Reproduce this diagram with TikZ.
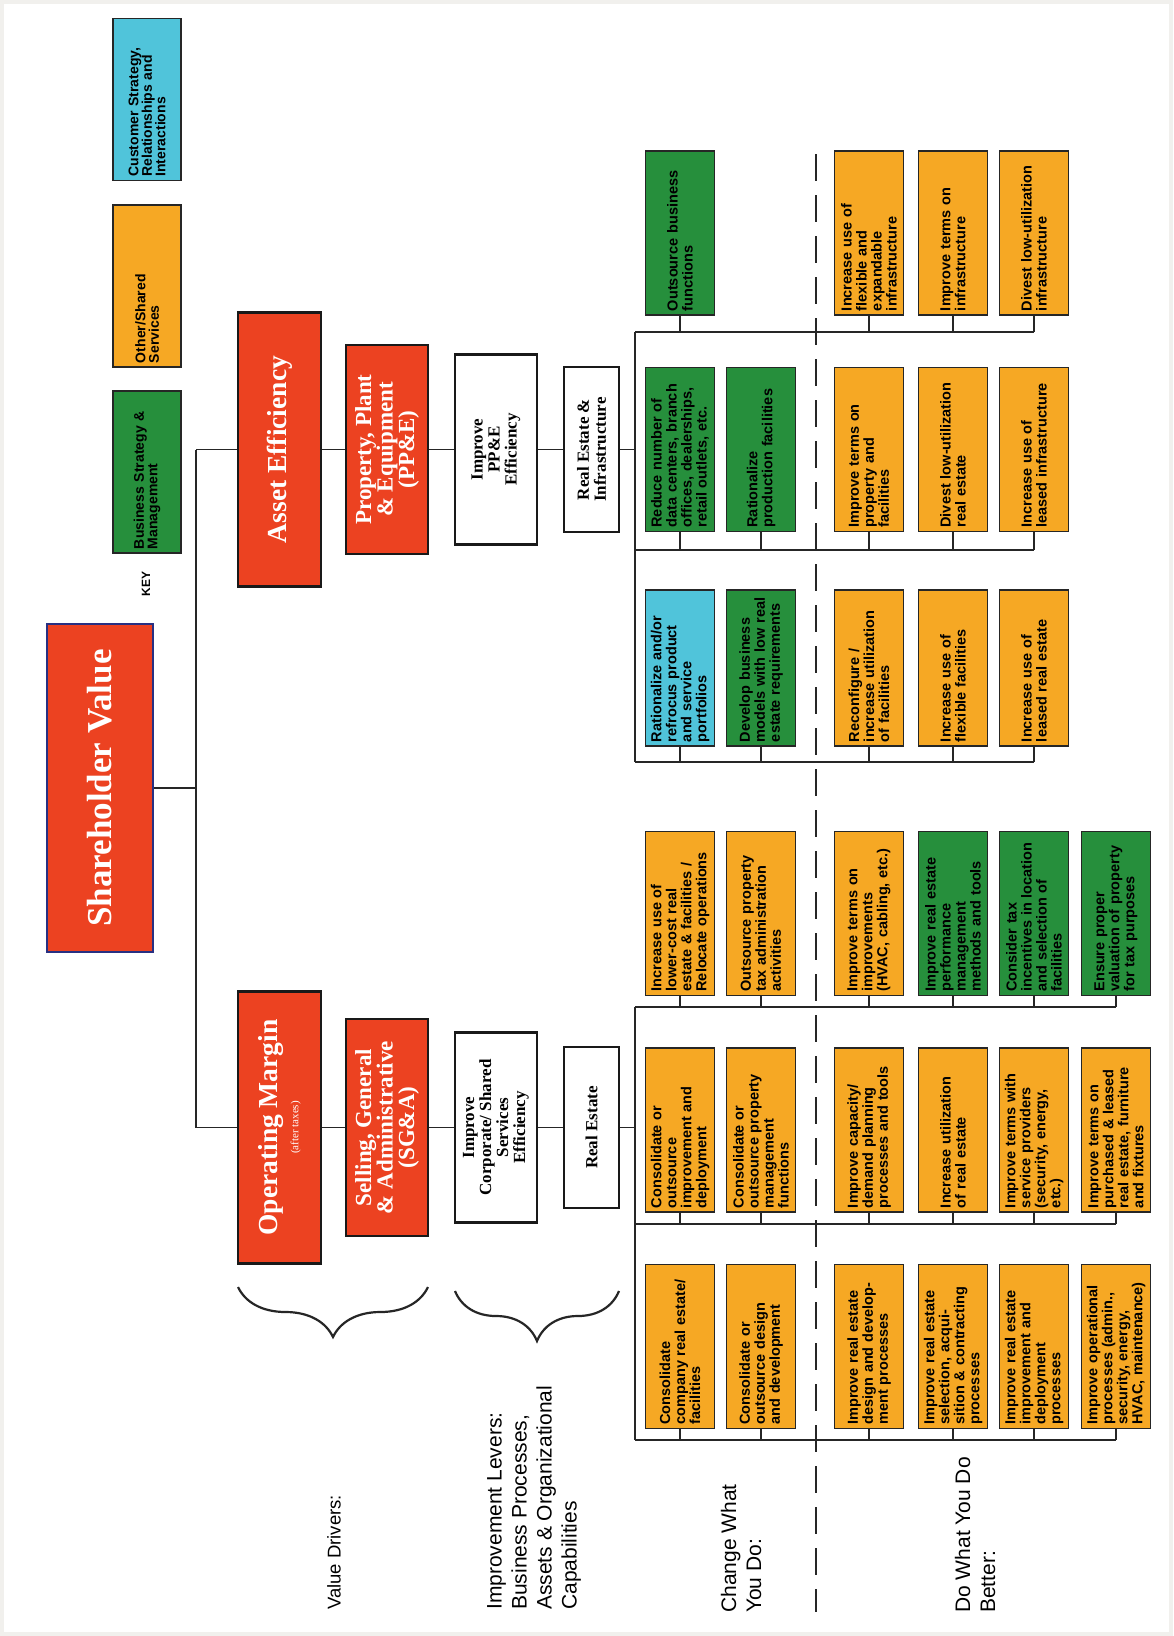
\documentclass[tikz,border=0pt]{standalone}
\usepackage{fontspec}
\setmainfont{Liberation Serif}
\setsansfont{Liberation Sans}
\usetikzlibrary{decorations.pathreplacing}
\definecolor{drvred}{RGB}{236,66,33}
\definecolor{optorange}{RGB}{246,168,36}
\definecolor{optgreen}{RGB}{38,143,60}
\definecolor{optcyan}{RGB}{80,196,218}
\definecolor{svblue}{RGB}{40,48,130}
\definecolor{framegray}{RGB}{241,240,237}
\begin{document}
\begin{tikzpicture}[x=1pt,y=-1pt,
 wire/.style={black!85,line width=1.6pt},
 opt/.style={rotate=90,draw=black!85,line width=1.6pt,minimum height=69pt,text width=156pt,inner xsep=4pt,inner ysep=0pt,align=left,font=\sffamily\bfseries\fontsize{14.5}{15}\selectfont},
 keybox/.style={opt,minimum height=68pt,text width=154pt,font=\sffamily\bfseries\fontsize{14}{13.5}\selectfont},
 drv/.style={rotate=90,draw=black!90,line width=2.5pt,fill=drvred,text=white,inner sep=0pt,align=center},
 lev/.style={rotate=90,draw=black!90,line width=2.5pt,fill=white,inner sep=0pt,align=center,font=\bfseries\fontsize{17}{17}\selectfont},
 lbl/.style={rotate=90,anchor=west,inner sep=0pt,align=left,font=\sffamily\fontsize{21}{25}\selectfont}]
 \useasboundingbox (0,0) rectangle (1173,1636);
 \fill[framegray] (0,0) rectangle (1173,1636);
 \fill[white] (4,4) rectangle (1169,1632);
 % key
 \node[keybox,fill=optgreen] (kgreen) at (147,472) {Business Strategy \&\\Management};
 \node[keybox,fill=optorange] (korange) at (147,286) {Other/Shared\\Services};
 \node[keybox,fill=optcyan] (kcyan) at (147,99.5) {Customer Strategy,\\Relationships and\\Interactions};
 \node[rotate=90,font=\sffamily\bfseries\fontsize{12}{12}\selectfont] (keylbl) at (146,584) {KEY};
 % value drivers
 \node[drv,draw=svblue,line width=2pt,minimum width=328pt,minimum height=106pt,font=\bfseries\fontsize{35}{35}\selectfont] (sv) at (100,788) {Shareholder Value};
 \node[drv,minimum width=274pt,minimum height=83pt,font=\bfseries\fontsize{27.5}{30}\selectfont] (asset) at (279.5,449.5) {Asset Efficiency};
 \node[drv,minimum width=272pt,minimum height=83pt,font=\bfseries\fontsize{27.5}{30}\selectfont] (opm) at (279.5,1127.5) {Operating Margin\\[-9pt]{\mdseries\fontsize{11}{11}\selectfont(after taxes)}};
 \node[drv,minimum width=209pt,minimum height=82pt,font=\bfseries\fontsize{23}{21.5}\selectfont] (ppe) at (387,449.5) {Property, Plant\\\& Equipment\\(PP\&E)};
 \node[drv,minimum width=217pt,minimum height=82pt,font=\bfseries\fontsize{23}{21.5}\selectfont] (sga) at (387,1127.5) {Selling, General\\\& Administrative\\(SG\&A)};
 % levers
 \node[lev,minimum width=190pt,minimum height=82pt] (impe) at (496,449.5) {Improve\\PP\&E\\Efficiency};
 \node[lev,minimum width=190pt,minimum height=82pt] (imcs) at (496,1127.5) {Improve\\Corporate/ Shared\\Services\\Efficiency};
 \node[lev,minimum width=165pt,minimum height=55pt] (rei) at (591.5,449.5) {Real Estate \&\\Infrastructure};
 \node[lev,minimum width=161pt,minimum height=55pt] (re) at (591.5,1127.5) {Real Estate};
 % asset efficiency options
 \node[opt,fill=optgreen] (a1) at (680,233) {Outsource business\\functions};
 \node[opt,fill=optorange] (a3) at (869,233) {Increase use of\\flexible and\\expandable\\infrastructure};
 \node[opt,fill=optorange] (a4) at (953,233) {Improve terms on\\infrastructure};
 \node[opt,fill=optorange] (a5) at (1034,233) {Divest low-utilization\\infrastructure};
 \node[opt,fill=optgreen] (b1) at (680,449.5) {Reduce number of\\data centers, branch\\offices, dealerships,\\retail outlets, etc.};
 \node[opt,fill=optgreen] (b2) at (761,449.5) {Rationalize\\production facilities};
 \node[opt,fill=optorange] (b3) at (869,449.5) {Improve terms on\\property and\\facilities};
 \node[opt,fill=optorange] (b4) at (953,449.5) {Divest low-utilization\\real estate};
 \node[opt,fill=optorange] (b5) at (1034,449.5) {Increase use of\\leased infrastructure};
 \node[opt,fill=optcyan,text width=148pt] (c1) at (680,668) {Rationalize and/or\\refrocus product\\and service\\portfolios};
 \node[opt,fill=optgreen,text width=148pt] (c2) at (761,668) {Develop business\\models with low real\\estate requirements};
 \node[opt,fill=optorange,text width=148pt] (c3) at (869,668) {Reconfigure /\\increase utilization\\of facilities};
 \node[opt,fill=optorange,text width=148pt] (c4) at (953,668) {Increase use of\\flexible facilities};
 \node[opt,fill=optorange,text width=148pt] (c5) at (1034,668) {Increase use of\\leased real estate};
 % operating margin options
 \node[opt,fill=optorange] (d1) at (680,913.5) {Increase use of\\lower-cost real\\estate \& facilities /\\Relocate operations};
 \node[opt,fill=optorange] (d2) at (761,913.5) {Outsource property\\tax administration\\activities};
 \node[opt,fill=optorange] (d3) at (869,913.5) {Improve terms on\\improvements\\(HVAC, cabling, etc.)};
 \node[opt,fill=optgreen] (d4) at (953,913.5) {Improve real estate\\performance\\management\\methods and tools};
 \node[opt,fill=optgreen] (d5) at (1034,913.5) {Consider tax\\incentives in location\\and selection of\\facilities};
 \node[opt,fill=optgreen] (d6) at (1116,913.5) {Ensure proper\\valuation of property\\for tax purposes};
 \node[opt,fill=optorange] (e1) at (680,1130) {Consolidate or\\outsource\\improvement and\\deployment};
 \node[opt,fill=optorange] (e2) at (761,1130) {Consolidate or\\outsource property\\management\\functions};
 \node[opt,fill=optorange] (e3) at (869,1130) {Improve capacity/\\demand planning\\processes and tools};
 \node[opt,fill=optorange] (e4) at (953,1130) {Increase utilization\\of real estate};
 \node[opt,fill=optorange] (e5) at (1034,1130) {Improve terms with\\service providers\\(security, energy,\\etc.)};
 \node[opt,fill=optorange] (e6) at (1116,1130) {Improve terms on\\purchased \& leased\\real estate, furniture\\and fixtures};
 \node[opt,fill=optorange] (f1) at (680,1346.5) {Consolidate\\company real estate/\\facilities};
 \node[opt,fill=optorange] (f2) at (761,1346.5) {Consolidate or\\outsource design\\and development};
 \node[opt,fill=optorange] (f3) at (869,1346.5) {Improve real estate\\design and develop-\\ment processes};
 \node[opt,fill=optorange] (f4) at (953,1346.5) {Improve real estate\\selection, acqui-\\sition \& contracting\\processes};
 \node[opt,fill=optorange] (f5) at (1034,1346.5) {Improve real estate\\improvement and\\deployment\\processes};
 \node[opt,fill=optorange] (f6) at (1116,1346.5) {Improve operational\\processes (admin.,\\security, energy,\\HVAC, maintenance)};
 % tree
 \coordinate (spine) at (196,788);
 \draw[wire] (sv.south) -- (sv.south -| spine);
 \draw[wire] (asset.north -| spine) -- (opm.north -| spine);
 \draw[wire] (asset.north -| spine) -- (asset.north);
 \draw[wire] (opm.north -| spine) -- (opm.north);
 \draw[wire] (asset.south) -- (ppe.north);
 \draw[wire] (ppe.south) -- (impe.north);
 \draw[wire] (impe.south) -- (rei.north);
 \draw[wire] (opm.south) -- (sga.north);
 \draw[wire] (sga.south) -- (imcs.north);
 \draw[wire] (imcs.south) -- (re.north);
 \coordinate (busA) at (635,332);
 \coordinate (busB) at (635,550);
 \coordinate (busC) at (635,762);
 \coordinate (busD) at (635,1007);
 \coordinate (busE) at (635,1224);
 \coordinate (busF) at (635,1440);
 \draw[wire] (busA) -- (busC);
 \draw[wire] (busD) -- (busF);
 \draw[wire] (rei.south) -- (rei.south -| busA);
 \draw[wire] (re.south) -- (re.south -| busD);
 \draw[wire] (busA) -- (busA -| a5.west);
 \draw[wire] (busB) -- (busB -| b5.west);
 \draw[wire] (busC) -- (busC -| c5.west);
 \draw[wire] (busD) -- (busD -| d6.west);
 \draw[wire] (busE) -- (busE -| e6.west);
 \draw[wire] (busF) -- (busF -| f6.west);
 \foreach \n in {a1,a3,a4,a5} \draw[wire] (\n.west) -- (busA -| \n.west);
 \foreach \n in {b1,b2,b3,b4,b5} \draw[wire] (\n.west) -- (busB -| \n.west);
 \foreach \n in {c1,c2,c3,c4,c5} \draw[wire] (\n.west) -- (busC -| \n.west);
 \foreach \n in {d1,d2,d3,d4,d5,d6} \draw[wire] (\n.west) -- (busD -| \n.west);
 \foreach \n in {e1,e2,e3,e4,e5,e6} \draw[wire] (\n.west) -- (busE -| \n.west);
 \foreach \n in {f1,f2,f3,f4,f5,f6} \draw[wire] (\n.west) -- (busF -| \n.west);
 \draw[black!85,line width=2.5pt,dash pattern=on 27pt off 14pt] (816,154) -- (816,1612);
 % braces and labels
 \draw[black!85,line width=2.2pt,decorate,decoration={brace,amplitude=50pt}] (428,1287) -- (238,1287);
 \draw[black!85,line width=2.2pt,decorate,decoration={brace,amplitude=50pt}] (619,1291) -- (455,1291);
 \node[lbl,font=\sffamily\fontsize{18.5}{22}\selectfont] (vdlbl) at (334,1610) {Value Drivers:};
 \node[lbl] (levlbl) at (534,1610) {Improvement Levers:\\Business Processes,\\Assets \& Organizational\\Capabilities};
 \node[lbl] (chglbl) at (741,1613) {Change What\\You Do:};
 \node[lbl] (betlbl) at (975,1613) {Do What You Do\\Better:};
\end{tikzpicture}
\end{document}
